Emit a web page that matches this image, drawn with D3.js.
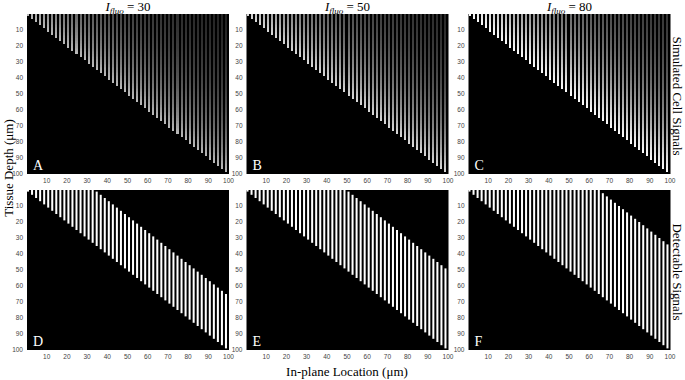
<!DOCTYPE html>
<html>
<head>
<meta charset="utf-8">
<script src="https://cdn.jsdelivr.net/npm/d3@7"></script>
<style>
  body { margin: 0; background: #fff; }
  text { font-family: "Liberation Serif", "Times New Roman", serif; }
  .tick text { font-family: "Liberation Sans", Arial, sans-serif; font-size: 6.5px; }
</style>
</head>
<body>
<svg id="chart" width="685" height="380"></svg>
<script>
// fluorescence intensity for each column of panels
const iFluo = [30, 50, 80];
// cells sit on every odd column of the 100 x 100 grid
const cellColumns = [1, 3, 5, 7, 9, 11, 13, 15, 17, 19, 21, 23, 25, 27, 29, 31, 33, 35, 37, 39,
  41, 43, 45, 47, 49, 51, 53, 55, 57, 59, 61, 63, 65, 67, 69, 71, 73, 75, 77, 79,
  81, 83, 85, 87, 89, 91, 93, 95, 97, 99];
// depth range (um) above a cell that is still detectable (panels D, E, F)
const detectRange = [34, 50, 65];
// gray level of the simulated signal vs distance above the cell (panels A, B, C)
const signalDistance = [0, 10, 20, 30, 40, 50, 60, 70, 80, 90, 100];
const grayA = [185, 140, 112, 92, 76, 64, 55, 48, 42, 37, 33];
const grayB = [215, 170, 138, 114, 95, 80, 68, 59, 51, 45, 40];
const grayC = [250, 215, 178, 148, 124, 104, 89, 76, 66, 58, 51];
const tickValues = [10, 20, 30, 40, 50, 60, 70, 80, 90, 100];
const lettersTop = ["A", "B", "C"];
const lettersBottom = ["D", "E", "F"];

const svg = d3.select("#chart");
const panelWidth = 202, panelHeight = 160;
const panelLeft = [27, 246.5, 468.5];
const panelTop = [14, 190];

const xScale = d3.scaleLinear().domain([0.5, 100.5]).range([0, panelWidth]);
const yScale = d3.scaleLinear().domain([0.5, 100.5]).range([0, panelHeight]);
const cellW = xScale(1.5) - xScale(0.5);
const cellH = yScale(1.5) - yScale(0.5);
const grays = [grayA, grayB, grayC];

function drawAxes(g) {
  let xAxis = d3.axisBottom(xScale).tickValues(tickValues).tickSize(0).tickPadding(4);
  g.append("g")
    .attr("transform", "translate(0," + panelHeight + ")")
    .call(xAxis)
    .call(a => a.select(".domain").remove());
  let yAxis = d3.axisLeft(yScale).tickValues(tickValues).tickSize(0).tickPadding(4);
  g.append("g")
    .call(yAxis)
    .call(a => a.select(".domain").remove());
  g.selectAll(".tick text").attr("fill", "#444");
}

function panelLetter(g, s) {
  g.append("text")
    .attr("x", 6)
    .attr("y", panelHeight - 4)
    .attr("fill", "#fff")
    .style("font-size", "14px")
    .text(s);
}

iFluo.forEach(function(f, i) {
  // simulated cell signals
  let top = svg.append("g").attr("transform", "translate(" + panelLeft[i] + "," + panelTop[0] + ")");
  top.append("rect").attr("width", panelWidth).attr("height", panelHeight).attr("fill", "#000");
  let grayScale = d3.scaleLinear().domain(signalDistance).range(grays[i]).clamp(true);
  let cells = [];
  cellColumns.forEach(c => { for (let r = 1; r <= c; r++) cells.push({c: c, r: r}); });
  top.selectAll("rect.cell").data(cells).enter().append("rect")
    .attr("class", "cell")
    .attr("x", d => xScale(d.c - 0.5))
    .attr("y", d => yScale(d.r - 0.5))
    .attr("width", cellW)
    .attr("height", cellH)
    .attr("shape-rendering", "crispEdges")
    .attr("fill", d => { let v = Math.round(grayScale(d.c - d.r)); return d3.rgb(v, v, v); });
  drawAxes(top);
  panelLetter(top, lettersTop[i]);

  // title
  let title = svg.append("text")
    .attr("x", panelLeft[i] + panelWidth / 2)
    .attr("y", 11)
    .attr("text-anchor", "middle")
    .attr("fill", "#000")
    .style("font-size", "13px");
  title.append("tspan").style("font-style", "italic").text("I");
  title.append("tspan").style("font-style", "italic").style("font-size", "9px").attr("dy", 3).text("fluo");
  title.append("tspan").attr("dy", -3).text(" = " + f);

  // detectable signals
  let bottom = svg.append("g").attr("transform", "translate(" + panelLeft[i] + "," + panelTop[1] + ")");
  bottom.append("rect").attr("width", panelWidth).attr("height", panelHeight).attr("fill", "#000");
  bottom.selectAll("rect.stripe").data(cellColumns).enter().append("rect")
    .attr("class", "stripe")
    .attr("x", c => xScale(c - 0.5))
    .attr("y", c => yScale(Math.max(1, c - detectRange[i] + 1) - 0.5))
    .attr("width", cellW)
    .attr("height", c => yScale(c + 0.5) - yScale(Math.max(1, c - detectRange[i] + 1) - 0.5))
    .attr("fill", "#fff");
  drawAxes(bottom);
  panelLetter(bottom, lettersBottom[i]);
});

// axis titles
svg.append("text")
  .attr("transform", "translate(13,168) rotate(-90)")
  .attr("text-anchor", "middle")
  .style("font-size", "13px")
  .text("Tissue Depth (\u03bcm)");

svg.append("text")
  .attr("x", 347)
  .attr("y", 376)
  .attr("text-anchor", "middle")
  .style("font-size", "13px")
  .text("In-plane Location (\u03bcm)");

svg.append("text")
  .attr("transform", "translate(673,96) rotate(90)")
  .attr("text-anchor", "middle")
  .style("font-size", "13px")
  .text("Simulated Cell Signals");

svg.append("text")
  .attr("transform", "translate(673,272) rotate(90)")
  .attr("text-anchor", "middle")
  .style("font-size", "13px")
  .text("Detectable Signals");
</script>
</body>
</html>
